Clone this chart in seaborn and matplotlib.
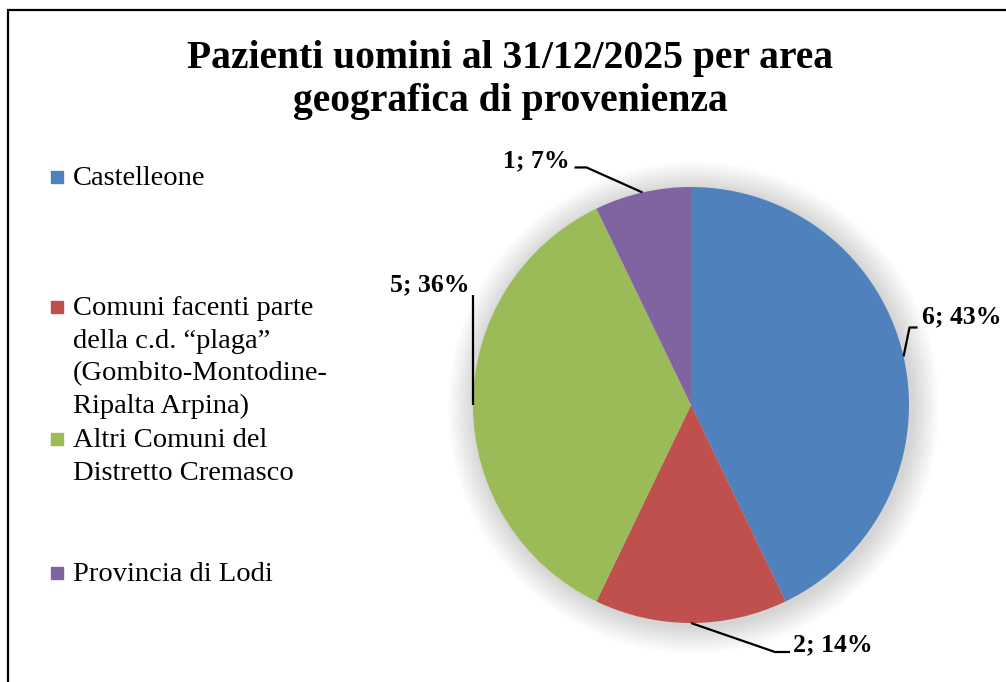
import numpy as np
import matplotlib.pyplot as plt
import matplotlib.patches as mpatches
import seaborn as sns

# dati del grafico
aree = [
    "Castelleone",
    "Comuni facenti parte\ndella c.d. \u201cplaga\u201d\n(Gombito-Montodine-\nRipalta Arpina)",
    "Altri Comuni del\nDistretto Cremasco",
    "Provincia di Lodi",
]
pazienti = [6, 2, 5, 1]
colori = ["#4F81BD", "#C0504D", "#9BBB59", "#8064A2"]
titolo = "Pazienti uomini al 31/12/2025 per area\ngeografica di provenienza"

sns.set_theme(style="white")
plt.rcParams['font.family'] = ['Liberation Serif', 'DejaVu Serif']
plt.rcParams['text.color'] = 'black'

W, H = 1006, 682
fig = plt.figure(figsize=(W / 100, H / 100), dpi=100)

# cornice esterna
fig.patches.append(mpatches.Rectangle((8 / W, -0.1), 1.2, 1 - 10 / H + 0.1,
                                      transform=fig.transFigure, fill=False,
                                      edgecolor="black", linewidth=1.6))

fig.text(510 / W, 1 - 80 / H, titolo, ha="center", va="center",
         fontsize=28.5, fontweight="bold", linespacing=1.2)

# torta
cx, cy, r = 691, 405, 218
ax = fig.add_axes([(cx - r) / W, (H - cy - r) / H, 2 * r / W, 2 * r / H])
ax.axis("off")

pal = sns.color_palette(colori)
wedges, _ = ax.pie(pazienti, colors=pal, startangle=90, counterclock=False,
                   radius=1, wedgeprops=dict(linewidth=0))
for w in wedges:
    w.set_zorder(2)
ax.set_xlim(-1, 1)
ax.set_ylim(-1, 1)
ax.set_aspect("equal")

# ombra morbida
for k in range(14):
    ax.add_patch(mpatches.Circle((0.012, -0.012), 1.0 + 0.009 * (14 - k),
                                 color="gray", alpha=0.022, lw=0, zorder=0,
                                 clip_on=False))

tot = sum(pazienti)
# offset in pixel: gomito, fine linea, testo, allineamento
offsets = [
    ((6, 29), (14, 29), (18, 40), "left"),
    ((84, -29), (99, -29), (102, -22), "left"),
    ((0, 110), (0, 110), (-4, 120), "right"),
    ((-56, 25), (-68, 25), (-73, 32), "right"),
]
for w, v, (el, en, tx, ha) in zip(wedges, pazienti, offsets):
    ang = np.deg2rad((w.theta1 + w.theta2) / 2)
    x0, y0 = np.cos(ang), np.sin(ang)
    xs = [x0, x0 + el[0] / r, x0 + en[0] / r]
    ys = [y0, y0 + el[1] / r, y0 + en[1] / r]
    ax.plot(xs, ys, color="black", lw=1.6, clip_on=False, zorder=3,
            solid_capstyle="butt")
    ax.text(x0 + tx[0] / r, y0 + tx[1] / r, f"{v}; {v / tot:.0%}",
            ha=ha, va="center", fontsize=18.5, fontweight="bold", clip_on=False)

# legenda manuale
leg_y = [177, 307, 439, 573]
for lab, c, y in zip(aree, pal, leg_y):
    fig.patches.append(mpatches.Rectangle((51 / W, 1 - (y + 6) / H), 12 / W, 12 / H,
                                          transform=fig.transFigure, color=c))
    fig.text(73 / W, 1 - (y - 11) / H, lab, ha="left", va="top",
             fontsize=20.5, linespacing=1.4)

fig.savefig("out.png", dpi=100)
